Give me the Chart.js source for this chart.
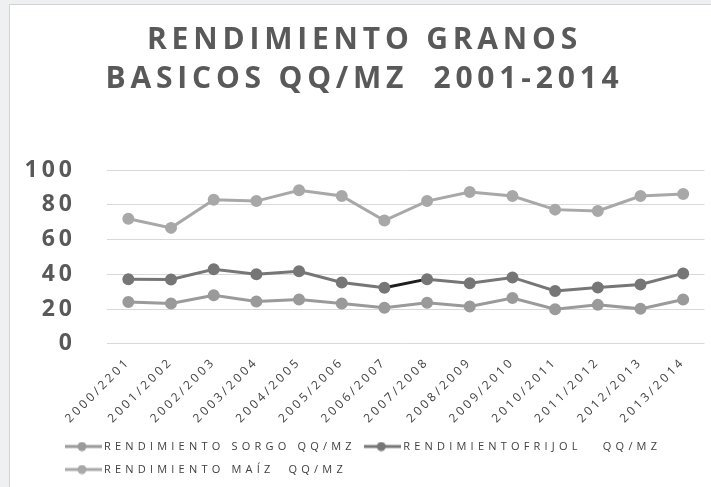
<!DOCTYPE html>
<html><head><meta charset="utf-8">
<script src="https://cdn.jsdelivr.net/npm/chart.js@4/dist/chart.umd.min.js"></script>
<style>
html,body{margin:0;padding:0;background:#eef0f2;width:711px;height:487px;overflow:hidden}
#frame{position:absolute;left:9px;top:4px;width:702px;height:483px;background:#fff;border-left:1px solid #d3d3d3;border-top:1px solid #d3d3d3}
#wrap{position:absolute;left:0;top:0;width:702px;height:483px}
</style></head><body>
<div id="frame"><div id="wrap"><canvas id="c"></canvas></div></div>
<script>
const titleLines = ['RENDIMIENTO GRANOS', 'BASICOS QQ/MZ  2001-2014'];
const categories = ['2000/2201','2001/2002','2002/2003','2003/2004','2004/2005','2005/2006','2006/2007','2007/2008','2008/2009','2009/2010','2010/2011','2011/2012','2012/2013','2013/2014'];
const seriesNames = ['RENDIMIENTO SORGO QQ/MZ', 'RENDIMIENTOFRIJOL   QQ/MZ', 'RENDIMIENTO MAÍZ  QQ/MZ'];
const sorgo  = [24.0, 23.2, 27.9, 24.4, 25.5, 23.2, 20.7, 23.6, 21.5, 26.3, 19.9, 22.4, 20.1, 25.5];
const frijol = [37.2, 37.0, 42.9, 40.0, 41.7, 35.3, 32.2, 37.2, 34.9, 38.2, 30.4, 32.4, 34.1, 40.5];
const maiz   = [71.9, 66.7, 82.9, 82.1, 88.3, 85.0, 70.9, 82.1, 87.3, 85.0, 77.2, 76.4, 85.0, 86.2];
const yTicks = [0, 20, 40, 60, 80, 100];

const colors = ['#9a9a9a', '#767676', '#a8a8a8'];

function legendIcon(color) {
  const c = document.createElement('canvas');
  c.width = 37; c.height = 10;
  const g = c.getContext('2d');
  g.strokeStyle = color; g.lineWidth = 3;
  g.beginPath(); g.moveTo(0, 5); g.lineTo(37, 5); g.stroke();
  g.fillStyle = color;
  g.beginPath(); g.arc(17, 5, 4.5, 0, Math.PI * 2); g.fill();
  return c;
}
const icons = colors.map(legendIcon);

function withSpacing(obj, methods, sp) {
  if (!obj || obj.__sp) return;
  obj.__sp = true;
  methods.forEach(m => {
    const orig = obj[m];
    if (typeof orig !== 'function') return;
    obj[m] = function (...a) {
      const ctx = this.ctx;
      const prev = ctx.letterSpacing;
      ctx.letterSpacing = sp;
      try { return orig.apply(this, a); } finally { ctx.letterSpacing = prev; }
    };
  });
}

const LEGEND_X = 58.5;
const spacingPlugin = {
  id: 'spacing',
  beforeLayout(chart) {
    chart.ctx.letterSpacing = '3px';
    withSpacing(chart.titleBlock, ['fit', 'draw'], '4.8px');
    withSpacing(chart.legend, ['fit', 'draw'], '4.2px');
    withSpacing(chart.scales.y, ['update', 'drawLabels'], '4px');
    withSpacing(chart.scales.x, ['update', 'drawLabels'], '3px');
  },
  beforeDraw(chart) { chart.ctx.letterSpacing = '3px'; },
  afterLayout(chart) {
    const lg = chart.legend;
    if (lg) lg.left = LEGEND_X - lg.options.labels.padding;
  }
};

const mk = (i, data) => ({
  label: seriesNames[i], data,
  borderColor: colors[i], backgroundColor: colors[i],
  pointBackgroundColor: colors[i], pointBorderColor: colors[i],
  borderWidth: 3, pointRadius: 4.5, pointHoverRadius: 4.5, tension: 0,
  pointStyle: 'circle'
});
const dsFrijol = mk(1, frijol);
dsFrijol.segment = { borderColor: ctx => ctx.p0DataIndex === 6 ? '#1e1e1e' : undefined };

new Chart(document.getElementById('c'), {
  type: 'line',
  data: {
    labels: categories,
    datasets: [mk(0, sorgo), dsFrijol, mk(2, maiz)]
  },
  options: {
    responsive: true, maintainAspectRatio: false, animation: false,
    layout: { padding: { left: 14, right: 7, top: 16, bottom: 3 } },
    plugins: {
      title: {
        display: true, text: titleLines, color: '#595959',
        font: { family: 'Open Sans', size: 30, weight: 'bold', lineHeight: 1.3 },
        padding: { top: 0, bottom: 71 }
      },
      legend: {
        position: 'bottom', align: 'start',
        labels: {
          color: '#404040', font: { family: 'Open Sans', size: 11 },
          usePointStyle: true, pointStyleWidth: 30, padding: 12,
          generateLabels(chart) {
            return chart.data.datasets.map((d, i) => ({
              text: d.label, fillStyle: d.borderColor, strokeStyle: d.borderColor,
              pointStyle: icons[i], lineWidth: 0, datasetIndex: i, fontColor: '#404040'
            }));
          }
        }
      },
      tooltip: { enabled: false }
    },
    scales: {
      x: {
        offset: true,
        grid: { display: false }, border: { display: false },
        ticks: { color: '#404040', font: { family: 'Open Sans', size: 12 }, maxRotation: 45, minRotation: 45, padding: 3 }
      },
      y: {
        min: 0, max: 100,
        afterBuildTicks(axis) { axis.ticks = yTicks.map(v => ({ value: v })); },
        afterFit(s) { s.width = 83; },
        grid: { color: '#d9d9d9', lineWidth: 1, drawTicks: false },
        border: { display: false },
        ticks: { color: '#595959', font: { family: 'Open Sans', size: 23, weight: 'bold' }, padding: 31 }
      }
    }
  },
  plugins: [spacingPlugin]
});
</script>
</body></html>
